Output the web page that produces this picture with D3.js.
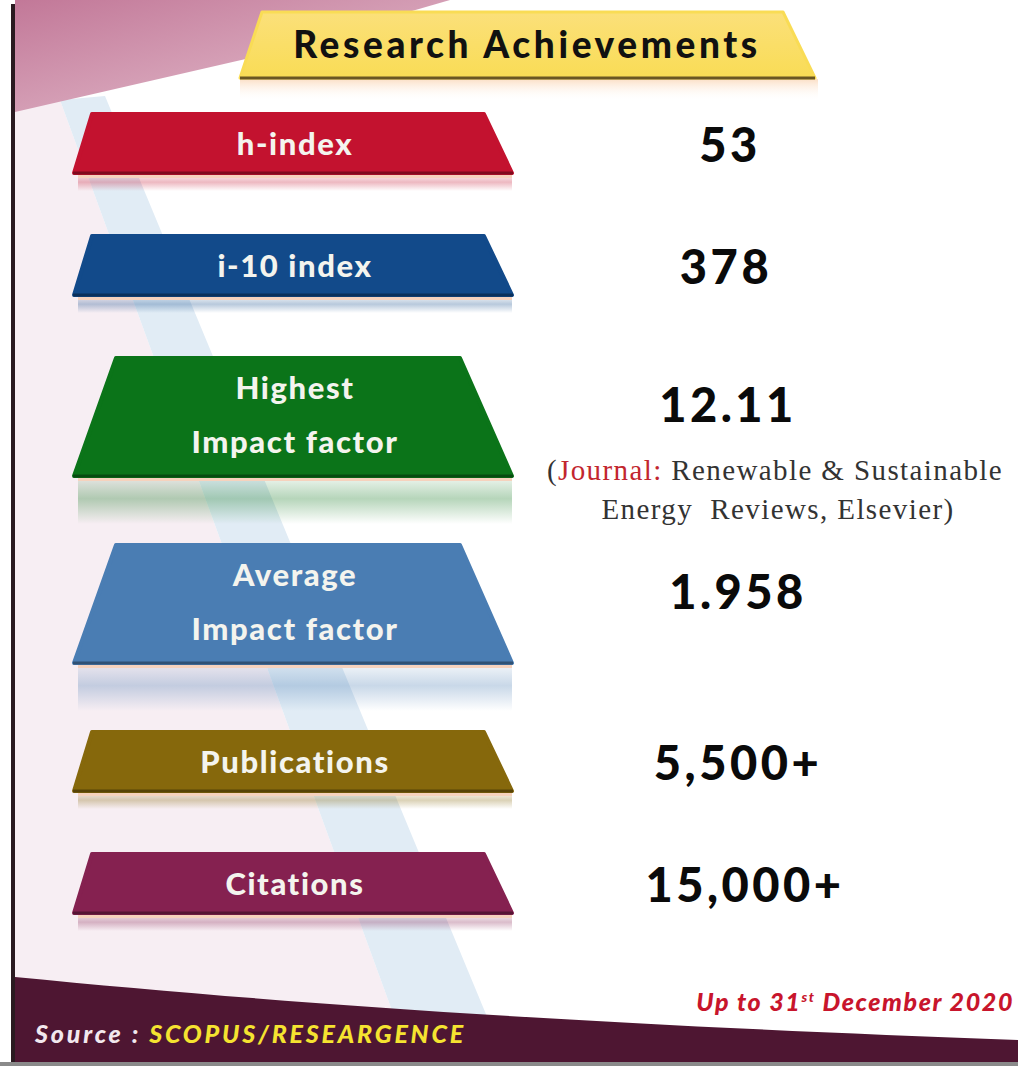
<!DOCTYPE html>
<html>
<head>
<meta charset="utf-8">
<script src="https://cdn.jsdelivr.net/npm/d3@7"></script>
<style>
  html, body { margin: 0; padding: 0; background: #fff; }
  svg { display: block; }
</style>
</head>
<body>
<div id="chart"></div>
<script>
// data
const labels = [["h-index"], ["i-10 index"], ["Highest", "Impact factor"], ["Average", "Impact factor"], ["Publications"], ["Citations"]]
const values = ["53", "378", "12.11", "1.958", "5,500+", "15,000+"]
const colors = ["#c3122f", "#124a8a", "#0b7419", "#4a7db3", "#86680c", "#852150"]
const title = "Research Achievements"
const note = ["Renewable & Sustainable", "Energy  Reviews, Elsevier)"]

const w = 1018
const h = 1066

const svg = d3.select("#chart")
  .append("svg")
  .attr("width", w)
  .attr("height", h)

const defs = svg.append("defs")

const pinkGrad = defs.append("linearGradient").attr("id", "pink")
  .attr("x1", 0).attr("y1", 0).attr("x2", 1).attr("y2", 1)
pinkGrad.append("stop").attr("offset", 0).attr("stop-color", "#c27898")
pinkGrad.append("stop").attr("offset", 1).attr("stop-color", "#e6c3d1")

const yellowGrad = defs.append("linearGradient").attr("id", "yellow")
  .attr("x1", 0).attr("y1", 0).attr("x2", 0).attr("y2", 1)
yellowGrad.append("stop").attr("offset", 0).attr("stop-color", "#fbe07a")
yellowGrad.append("stop").attr("offset", 1).attr("stop-color", "#f9dc55")

const glow = defs.append("linearGradient").attr("id", "glow")
  .attr("x1", 0).attr("y1", 0).attr("x2", 0).attr("y2", 1)
glow.append("stop").attr("offset", 0).attr("stop-color", "#fbdcc0").attr("stop-opacity", 0.9)
glow.append("stop").attr("offset", 1).attr("stop-color", "#fff").attr("stop-opacity", 0)

// fading reflection per colour
colors.forEach((c, i) => {
  const g = defs.append("linearGradient").attr("id", "refl" + i)
    .attr("x1", 0).attr("y1", 0).attr("x2", 0).attr("y2", 1)
  g.append("stop").attr("offset", 0).attr("stop-color", c).attr("stop-opacity", 0.08)
  g.append("stop").attr("offset", 0.45).attr("stop-color", c).attr("stop-opacity", 0.3)
  g.append("stop").attr("offset", 1).attr("stop-color", c).attr("stop-opacity", 0)
})

// background
svg.append("rect").attr("width", w).attr("height", h).attr("fill", "#fff")
svg.append("path")
  .attr("d", "M15,0 L15,1060 L410,1060 L60,100 L15,110 Z")
  .attr("fill", "#f7eef3")
svg.append("path")
  .attr("d", "M60,100 L105,96 L505,1060 L410,1060 Z")
  .attr("fill", "#e1ecf5")
svg.append("path")
  .attr("d", "M15,0 L450,0 L250,58 L15,112 Z")
  .attr("fill", "url(#pink)")

// bottom band
svg.append("path")
  .attr("d", "M15,977 C300,1005 600,1025 1018,1040 L1018,1062 L15,1062 Z")
  .attr("fill", "#4e1632")
svg.append("rect").attr("x", 0).attr("y", 1062).attr("width", w).attr("height", 4).attr("fill", "#8a8a8a")
svg.append("rect").attr("x", 11).attr("y", 4).attr("width", 4).attr("height", 1058).attr("fill", "#2a1a20")

// title banner
const tb = svg.append("g")
tb.append("rect").attr("x", 240).attr("y", 79).attr("width", 578).attr("height", 22).attr("fill", "url(#glow)")
tb.append("path")
  .attr("d", "M240,78 L262,12 L783,12 L815,78 Z")
  .attr("fill", "url(#yellow)")
  .attr("stroke", "#f9dc55").attr("stroke-width", 3).attr("stroke-linejoin", "round")
tb.append("line").attr("x1", 240).attr("x2", 815).attr("y1", 78).attr("y2", 78)
  .attr("stroke", "#6a5622").attr("stroke-width", 3)
tb.append("text")
  .attr("x", 527).attr("y", 58)
  .attr("text-anchor", "middle")
  .attr("font-family", "Lato, sans-serif").attr("font-weight", 900)
  .attr("font-size", 37).attr("fill", "#111")
  .attr("letter-spacing", 3.6)
  .text(title)

// rows: stacked by number of label lines
const lineH = 59
const gap = 63
const rows = labels.map((l, i) => ({ i, label: l, value: values[i], color: colors[i], lines: l.length }))
let acc = 114
rows.forEach(r => { r.top = acc; r.height = r.lines * lineH; acc += r.height + gap + (r.lines > 1 ? 6 : 0) })

const x = d3.scaleLinear().domain([0, 1]).range([74, 512])

const row = svg.selectAll(".row")
  .data(rows)
  .join("g")
  .attr("class", "row")

// reflection below each block
row.append("rect")
  .attr("x", x(0) + 4)
  .attr("y", d => d.top + d.height + 2)
  .attr("width", x(1) - x(0) - 4)
  .attr("height", d => d.lines > 1 ? 46 : 16)
  .attr("fill", d => `url(#refl${d.i})`)
row.append("rect")
  .attr("x", x(0) + 4)
  .attr("y", d => d.top + d.height + 1)
  .attr("width", x(1) - x(0) - 4)
  .attr("height", 4)
  .attr("fill", "#f6d2bd")

row.append("path")
  .attr("d", d => {
    const inset = d.lines > 1 ? 42 : 18
    return `M${x(0)},${d.top + d.height} L${x(0) + inset},${d.top} L${x(1) - inset - 10},${d.top} L${x(1)},${d.top + d.height} Z`
  })
  .attr("fill", d => d.color)
  .attr("stroke", d => d.color)
  .attr("stroke-width", 4)
  .attr("stroke-linejoin", "round")

row.append("line")
  .attr("x1", x(0) - 1).attr("x2", x(1) + 1)
  .attr("y1", d => d.top + d.height)
  .attr("y2", d => d.top + d.height)
  .attr("stroke", "#000").attr("stroke-opacity", 0.35).attr("stroke-width", 3)

row.each(function (d) {
  const g = d3.select(this)
  d.label.forEach((t, j) => {
    g.append("text")
      .attr("x", 295)
      .attr("y", d.top + 41 + j * 54)
      .attr("text-anchor", "middle")
      .attr("font-family", "Lato, sans-serif").attr("font-weight", 900)
      .attr("font-size", 31).attr("fill", "#f4f4ee")
      .attr("letter-spacing", 1.6)
      .text(t)
  })
})

const valueX = [730, 726, 728, 738, 738, 745]
row.append("text")
  .attr("x", (d, i) => valueX[i])
  .attr("y", d => d.lines > 1 ? d.top + 64 : d.top + 48)
  .attr("text-anchor", "middle")
  .attr("font-family", "Lato, sans-serif").attr("font-weight", 900)
  .attr("font-size", 47).attr("fill", "#0a0a0a")
  .attr("letter-spacing", 3.5)
  .text(d => d.value)

// journal note
const hi = rows[2]
const nt = svg.append("text")
  .attr("x", 775).attr("y", hi.top + 122)
  .attr("text-anchor", "middle")
  .attr("font-family", "'Liberation Serif', serif")
  .attr("font-size", 29).attr("fill", "#333")
  .attr("letter-spacing", 1.4)
nt.append("tspan").text("(")
nt.append("tspan").attr("fill", "#c2262e").text("Journal:")
nt.append("tspan").text(" " + note[0])
svg.append("text")
  .attr("x", 778).attr("y", hi.top + 161)
  .attr("text-anchor", "middle")
  .attr("font-family", "'Liberation Serif', serif")
  .attr("font-size", 29).attr("fill", "#333")
  .attr("letter-spacing", 1.4)
  .attr("xml:space", "preserve")
  .text(note[1])

// footer
const src = svg.append("text")
  .attr("x", 35).attr("y", 1043)
  .attr("font-family", "Lato, sans-serif").attr("font-weight", 900)
  .attr("font-style", "italic").attr("font-size", 25)
  .attr("letter-spacing", 2.8)
src.append("tspan").attr("fill", "#f2e8ee").text("Source : ")
src.append("tspan").attr("fill", "#f5e330").text("SCOPUS/RESEARGENCE")

const upto = svg.append("text")
  .attr("x", 1014).attr("y", 1011)
  .attr("text-anchor", "end")
  .attr("font-family", "Lato, sans-serif").attr("font-weight", 900)
  .attr("font-style", "italic").attr("font-size", 25).attr("fill", "#c8152c")
  .attr("letter-spacing", 1.6)
upto.append("tspan").text("Up to  31")
upto.append("tspan").attr("font-size", 14).attr("dy", -9).text("st")
upto.append("tspan").attr("dy", 9).text(" December 2020")
</script>
</body>
</html>
